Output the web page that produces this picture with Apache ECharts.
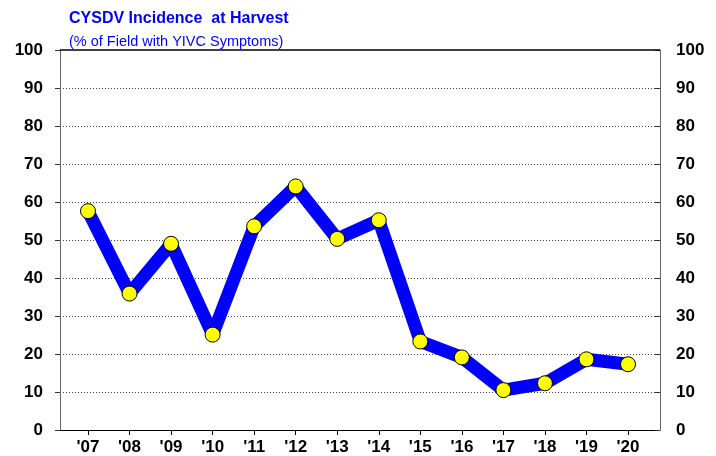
<!DOCTYPE html>
<html><head><meta charset="utf-8">
<script src="https://cdn.jsdelivr.net/npm/echarts@6/dist/echarts.min.js"></script>
<style>html,body{margin:0;padding:0;background:#fff}#c{width:716px;height:456px}</style>
</head><body><div id="c"></div>
<script>
var years = [2007,2008,2009,2010,2011,2012,2013,2014,2015,2016,2017,2018,2019,2020];
var yearLabels = ["'07","'08","'09","'10","'11","'12","'13","'14","'15","'16","'17","'18","'19","'20"];
var incidence = [57.6,35.9,49.0,25.1,53.6,64.1,50.3,55.2,23.3,19.1,10.5,12.3,18.6,17.3];
var titleText = "CYSDV Incidence  at Harvest";
var subtitleText = "(% of Field with YIVC Symptoms)";

var chart = echarts.init(document.getElementById('c'));
var xMin = 2006.326, xMax = 2020.77;
var labelFont = {fontFamily:'Liberation Sans, Arial, sans-serif', fontWeight:'bold', fontSize:17, color:'#000'};
function yAxisDef(pos){
  return {
    type:'value', position:pos, min:0, max:100, interval:10,
    axisLine:{show:true, lineStyle:{color:'#666', width:1}},
    axisTick:{show:true, length:5, inside:pos==='right', lineStyle:{color:'#333'}},
    axisLabel:Object.assign({margin:pos==='left'?17:16}, labelFont),
    splitLine:{show:pos==='left', showMaxLine:false, lineStyle:{color:'#444', type:[1,2], width:1}}
  };
}
chart.setOption({
  animation:false,
  backgroundColor:'#fff',
  title:[
    {text:titleText, left:64, top:6, textStyle:{color:'#0000ff', fontFamily:'Liberation Sans, Arial, sans-serif', fontWeight:'bold', fontSize:16}},
    {text:subtitleText, left:64, top:29, textStyle:{color:'#0000ff', fontFamily:'Liberation Sans, Arial, sans-serif', fontWeight:'normal', fontSize:14.5}}
  ],
  grid:{left:60, right:56, top:50, bottom:24},
  xAxis:{
    type:'value', min:xMin, max:xMax,
    axisLine:{show:true, onZero:false, lineStyle:{color:'#000', width:1}},
    axisTick:{show:true, length:5, customValues:years, lineStyle:{color:'#000'}},
    axisLabel:Object.assign({customValues:years, margin:9, formatter:function(v){return yearLabels[years.indexOf(Math.round(v))];}}, labelFont),
    splitLine:{show:false}
  },
  yAxis:[yAxisDef('left'), yAxisDef('right')],
  series:[{
    type:'line',
    data:years.map(function(y,i){return [y, incidence[i]];}),
    lineStyle:{color:'#0000ff', width:13},
    symbol:'circle', symbolSize:15,
    itemStyle:{color:'#ffff00', borderColor:'#000', borderWidth:1},
    z:3,
    markLine:{
      silent:true, symbol:'none', label:{show:false},
      lineStyle:{color:'#000', type:'solid', width:1.5},
      data:[{yAxis:100}]
    }
  }]
});
</script></body></html>
